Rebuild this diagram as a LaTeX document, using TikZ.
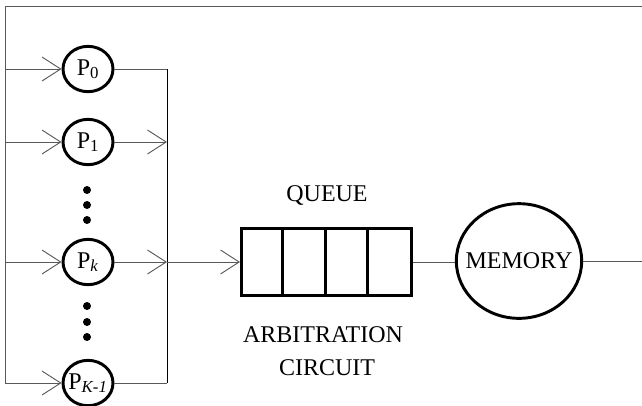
\documentclass[tikz,border=0pt]{standalone}
\usepackage{fontspec}
\setmainfont{Liberation Serif}
\usetikzlibrary{positioning, shapes.geometric, arrows.meta}
\tikzset{
	proc/.style={draw, ellipse, line width=2.2pt, minimum width=37.5pt, minimum height=34pt, inner xsep=-5pt, inner ysep=0pt},
	wire/.style={draw=black!65, line width=0.7pt},
	feed/.style={wire, -{Straight Barb[length=14pt, width=18pt]}},
}

\begin{document}
\begin{tikzpicture}[x=0.75pt, y=-0.75pt, font=\fontsize{18}{21}\selectfont]
			\useasboundingbox (0,0) rectangle (642,405);

			\node[proc] (P0) at (88,69)  {P\textsubscript{0}};
			\node[proc] (P1) at (88,142) {P\textsubscript{1}};
			\node[proc] (Pk) at (88,262) {P\textsubscript{\textit{k}}};
			\node[proc] (PK) at (88,383) {P\textsubscript{\textit{K-1}}};
			\foreach \y in {190,205,220,306,322,337}
				\fill (87,\y) circle[radius=4];

			\coordinate (tl) at (5,6);
			\coordinate (tr) at (642,6);
			\coordinate (bl) at (5,383);
			\coordinate (btop) at (167,69);
			\coordinate (bbot) at (167,383);
			\coordinate (join) at (167,262);

			\node[draw, line width=2.2pt, minimum width=127.5pt, minimum height=50.25pt, inner sep=0pt] (queue) at (326.5,262) {};
			\foreach \i in {1,2,3}
				\draw[line width=2.2pt] ([xshift=\i*31.875pt]queue.north west) -- ([xshift=\i*31.875pt]queue.south west);
			\node[draw, ellipse, line width=2.2pt, minimum width=94pt, minimum height=86pt, inner xsep=-7pt, inner ysep=0pt] (mem) at (519,261) {MEMORY};
			\coordinate (out) at (642,261);

			\node[anchor=base] (qlabel) at (327,201) {QUEUE};
			\node[anchor=base] (arb)    at (323,342) {ARBITRATION};
			\node[anchor=base] (circ)   at (327,375) {CIRCUIT};

			\draw[wire] (bl) -- (tl) -- (tr);
			\foreach \p in {P0,P1,Pk,PK}
				\draw[feed] (\p -| tl) -- (\p);
			\draw[wire] (P0) -- (btop);
			\draw[feed] (P1) -- (P1 -| btop);
			\draw[feed] (Pk) -- (join);
			\draw[wire] (PK) -- (bbot);
			\draw[wire, draw=black] (btop) -- (bbot);
			\draw[feed] (join) -- (queue);
			\draw[wire] (queue.east) -- (queue.east -| mem.west);
			\draw[wire] (mem) -- (out);
		\end{tikzpicture}
\end{document}
